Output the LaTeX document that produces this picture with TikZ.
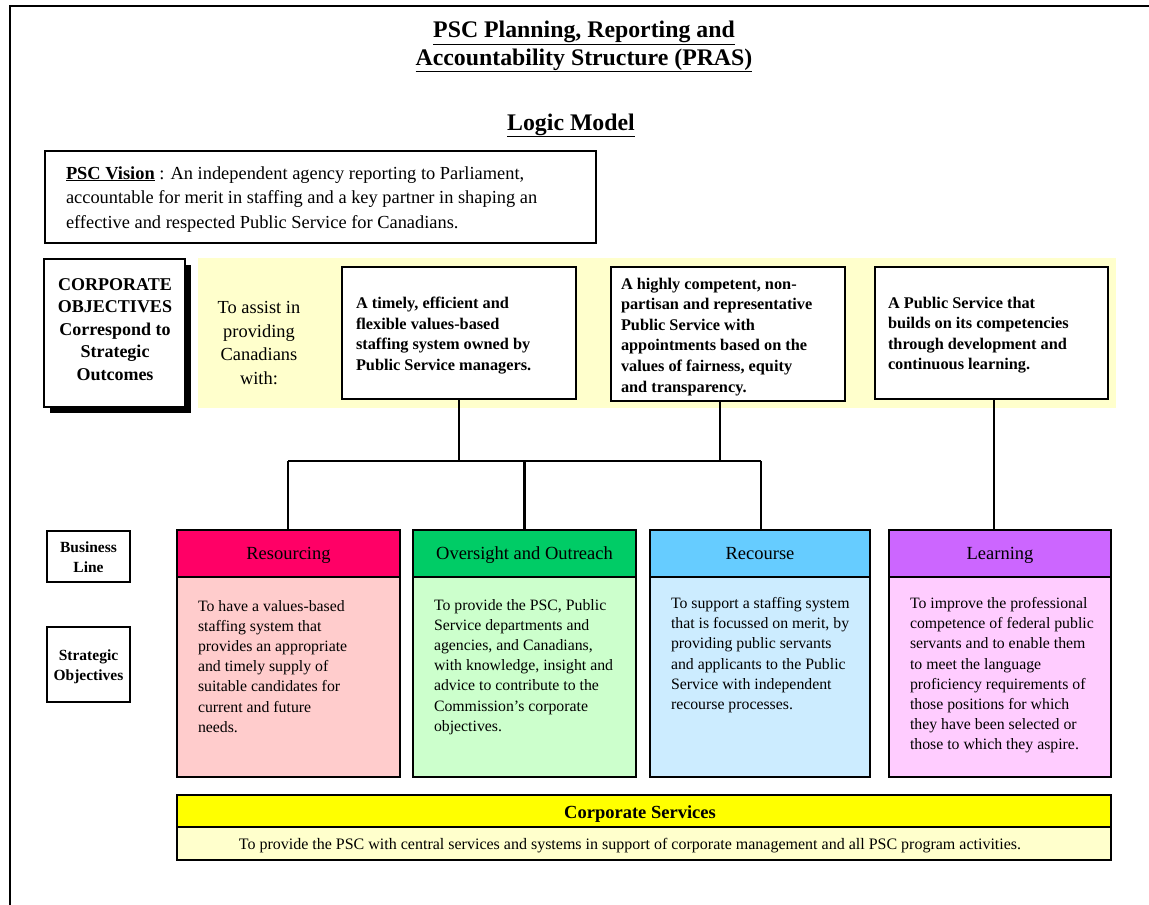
\documentclass[tikz,border=0pt]{standalone}
\usepackage{fontspec}
\setmainfont{Liberation Serif}
\definecolor{resH}{HTML}{FF0066}
\definecolor{resB}{HTML}{FFCCCC}
\definecolor{ovrH}{HTML}{00CC66}
\definecolor{ovrB}{HTML}{CCFFCC}
\definecolor{recH}{HTML}{66CCFF}
\definecolor{recB}{HTML}{CCECFF}
\definecolor{lrnH}{HTML}{CC66FF}
\definecolor{lrnB}{HTML}{FFCCFF}
\definecolor{csH}{HTML}{FFFF00}
\definecolor{csB}{HTML}{FFFFCC}
\definecolor{bandc}{HTML}{FFFFCC}
\newcommand\tl[1]{\begin{tabular}[t]{@{}l@{}}#1\end{tabular}}
\newcommand\tc[1]{\begin{tabular}[t]{@{}c@{}}#1\end{tabular}}
\begin{document}
\begin{tikzpicture}[x=1pt,y=-1pt,
  every node/.style={inner sep=0pt, outer sep=0pt},
  frame/.style={line width=2pt},
  box/.style={draw, line width=1.5pt, anchor=north west},
  hbox/.style={draw, line width=1.6pt, anchor=north west},
  conn/.style={line width=1.6pt},
  lab/.style={anchor=base west},
  ctr/.style={anchor=base},
  titlef/.style={font=\fontsize{23.8}{28}\selectfont\bfseries},
  visf/.style={font=\fontsize{18.4}{24.5}\selectfont},
  cof/.style={font=\fontsize{18}{22.4}\selectfont\bfseries},
  assf/.style={font=\fontsize{18.4}{23.5}\selectfont},
  outf/.style={font=\fontsize{16.3}{20.6}\selectfont\bfseries},
  headf/.style={font=\fontsize{18.5}{22}\selectfont},
  bodyf/.style={font=\fontsize{15.8}{20.2}\selectfont},
  csbf/.style={font=\fontsize{16}{20}\selectfont},
  sidef/.style={font=\fontsize{15.5}{20}\selectfont\bfseries},
  csf/.style={font=\fontsize{18.5}{22}\selectfont\bfseries}
]
\useasboundingbox (0,0) rectangle (1149,905);
\fill[white] (0,0) rectangle (1149,905);
\draw[frame] (1149,6) -- (10,6) -- (10,905);

% titles
\node[titlef, ctr] (t1) at (584,37.5) {\underline{PSC Planning, Reporting and}};
\node[titlef, ctr] (t2) at (584,65) {\underline{Accountability Structure (PRAS)}};
\node[titlef, ctr] (t3) at (571,130) {\underline{Logic Model}};

% vision
\node[box, minimum width=551pt, minimum height=92pt] (vis) at (45,151) {};
\node[visf, lab] (vist) at (66,179) {\tl{\textbf{\underline{PSC Vision}} : An independent agency reporting to Parliament,\\
accountable for merit in staffing and a key partner in shaping an\\
effective and respected Public Service for Canadians.}};

% band
\node[fill=bandc, anchor=north west, minimum width=918pt, minimum height=150pt] (band) at (198,258) {};

% corporate objectives with shadow
\fill[black] (50,265) rectangle (191,413);
\node[box, fill=white, minimum width=141pt, minimum height=148pt] (co) at (44,259) {};
\node[cof, ctr] (cot) at (115,290.5) {\tc{CORPORATE\\OBJECTIVES\\Correspond to\\Strategic\\Outcomes}};

\node[assf, ctr] (ass) at (259,313.5) {\tc{To assist in\\providing\\Canadians\\with:}};

% outcome boxes
\node[box, fill=white, minimum width=234pt, minimum height=132pt] (b1) at (342,267) {};
\node[outf, lab] (b1t) at (356,308.5) {\tl{A timely, efficient and\\flexible values-based\\staffing system owned by\\Public Service managers.}};
\node[box, fill=white, minimum width=234pt, minimum height=134pt] (b2) at (611,267) {};
\node[outf, lab] (b2t) at (621,289) {\tl{A highly competent, non-\\partisan and representative\\Public Service with\\appointments based on the\\values of fairness, equity\\and transparency.}};
\node[box, fill=white, minimum width=233pt, minimum height=132pt] (b3) at (875,267) {};
\node[outf, lab] (b3t) at (888,308) {\tl{A Public Service that\\builds on its competencies\\through development and\\continuous learning.}};

% side labels
\node[box, minimum width=83pt, minimum height=51pt] (bl) at (47,531) {};
\node[sidef, ctr] (blt) at (88.5,552) {\tc{Business\\Line}};
\node[box, minimum width=83pt, minimum height=75pt] (so) at (47,627) {};
\node[sidef, ctr] (sot) at (88.5,660) {\tc{Strategic\\Objectives}};

% business lines
\node[hbox, fill=resH, minimum width=223pt, minimum height=47pt] (res) at (177,530) {};
\node[hbox, fill=resB, minimum width=223pt, minimum height=200pt] (resb) at (177,577) {};
\node[headf, ctr] at (288.5,559) {Resourcing};
\node[bodyf, lab] (rest) at (198,611) {\tl{To have a values-based\\staffing system that\\provides an appropriate\\and timely supply of\\suitable candidates for\\current and future\\needs.}};

\node[hbox, fill=ovrH, minimum width=223pt, minimum height=47pt] (ovr) at (413,530) {};
\node[hbox, fill=ovrB, minimum width=223pt, minimum height=200pt] (ovrb) at (413,577) {};
\node[headf, ctr] at (524.5,559) {Oversight and Outreach};
\node[bodyf, lab] (ovrt) at (434,610) {\tl{To provide the PSC, Public\\Service departments and\\agencies, and Canadians,\\with knowledge, insight and\\advice to contribute to the\\Commission’s corporate\\objectives.}};

\node[hbox, fill=recH, minimum width=220pt, minimum height=47pt] (rec) at (650,530) {};
\node[hbox, fill=recB, minimum width=220pt, minimum height=200pt] (recb) at (650,577) {};
\node[headf, ctr] at (760,559) {Recourse};
\node[bodyf, lab] (rect) at (671,608.5) {\tl{To support a staffing system\\that is focussed on merit, by\\providing public servants\\and applicants to the Public\\Service with independent\\recourse processes.}};

\node[hbox, fill=lrnH, minimum width=222pt, minimum height=47pt] (lrn) at (889,530) {};
\node[hbox, fill=lrnB, minimum width=222pt, minimum height=200pt] (lrnb) at (889,577) {};
\node[headf, ctr] at (1000,559) {Learning};
\node[bodyf, lab] (lrnt) at (910,608.5) {\tl{To improve the professional\\competence of federal public\\servants and to enable them\\to meet the language\\proficiency requirements of\\those positions for which\\they have been selected or\\those to which they aspire.}};

% connectors
\coordinate (hL) at (288,461);
\coordinate (hR) at (761,461);
\draw[conn] (b1.south) -- (b1.south |- hL);
\draw[conn] ([xshift=-8pt]b2.south) -- ([xshift=-8pt]b2.south |- hL);
\draw[conn] (hL) -- (hR);
\draw[conn] (hL) -- (hL |- res.north);
\draw[conn, line width=2.4pt] (ovr.north |- hL) -- (ovr.north);
\draw[conn] (hR) -- (hR |- rec.north);
\draw[conn] ([xshift=2.5pt]b3.south) -- ([xshift=2.5pt]b3.south |- lrn.north);

% corporate services
\node[draw, line width=2.4pt, fill=csH, anchor=north west, minimum width=934pt, minimum height=32pt] (cs) at (177,795) {};
\node[draw, line width=2.4pt, fill=csB, anchor=north west, minimum width=934pt, minimum height=33pt] (csb) at (177,827) {};
\node[csf, ctr] (cst) at (640,818) {Corporate Services};
\node[csbf, ctr] (csbt) at (630,849.5) {To provide the PSC with central services and systems in support of corporate management and all PSC program activities.};
\end{tikzpicture}
\end{document}
